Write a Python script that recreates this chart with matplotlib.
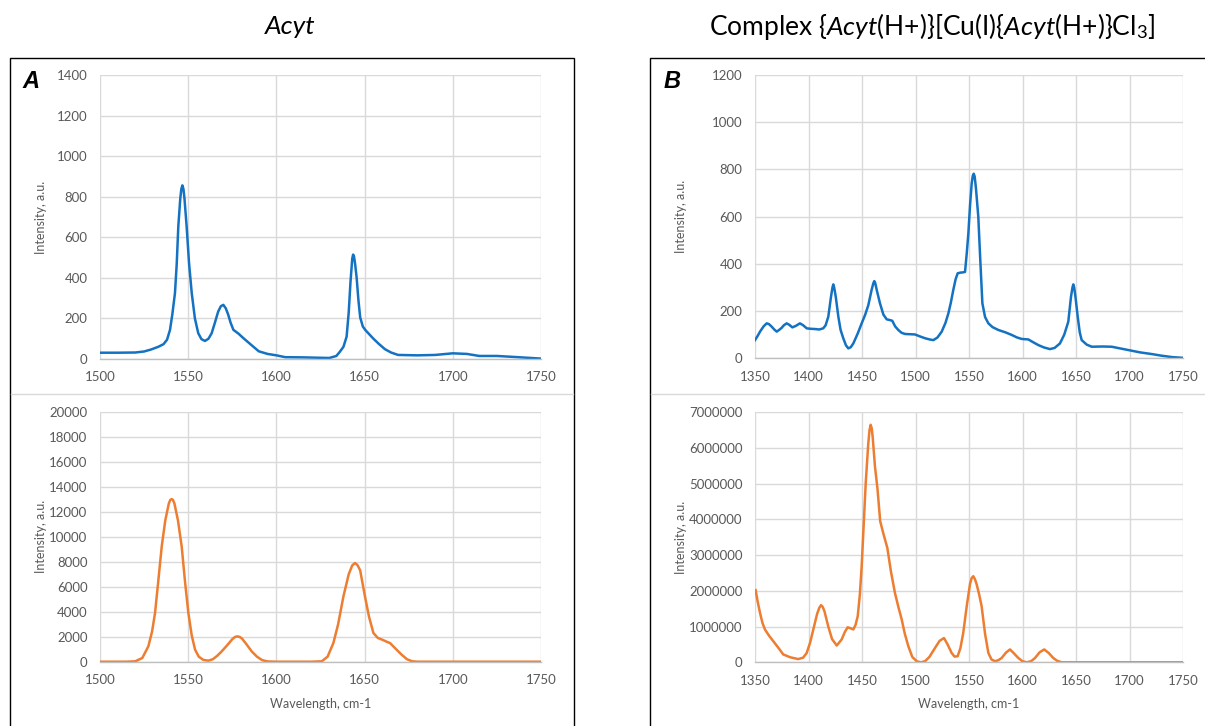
import matplotlib
matplotlib.use("Agg")
import matplotlib.pyplot as plt
from matplotlib.patches import Rectangle
from matplotlib.lines import Line2D
from matplotlib.ticker import MultipleLocator, FuncFormatter

plt.rcParams['font.family'] = ['Lato', 'DejaVu Sans']
plt.rcParams['mathtext.fontset'] = 'custom'
plt.rcParams['mathtext.rm'] = 'Lato'
plt.rcParams['mathtext.it'] = 'Lato:italic'

# %% data
acyt_raman_x = [1500, 1510, 1520, 1525, 1529, 1533, 1536, 1538, 1539.7, 1541, 1542.5, 1543.5, 1544.4, 1545.5,
                1546.1, 1546.7, 1547.3, 1547.9, 1549.1, 1550.5, 1552, 1553.8, 1555.7, 1557.5, 1559.5, 1561.5,
                1563.3, 1565, 1567, 1568.5, 1569.9, 1571.3, 1572.7, 1574, 1575.6, 1578.5, 1581, 1585, 1590,
                1595, 1600, 1605, 1615, 1625, 1630, 1634, 1636, 1638, 1639.8, 1641, 1642, 1643, 1643.5, 1644,
                1644.6, 1645.5, 1646.5, 1647.5, 1649, 1650.5, 1655, 1658, 1661.6, 1665, 1669, 1680, 1690, 1700,
                1708, 1715, 1725, 1735, 1750]
acyt_raman_y = [31, 31, 32, 37, 47, 60, 73, 95, 144, 220, 325, 470, 655, 790,
                838, 856, 838, 790, 655, 470, 325, 200, 127, 98, 89, 100,
                127, 175, 234, 260, 267, 250, 218, 180, 144, 125, 105, 75, 38,
                25, 18, 9, 8, 6, 5, 15, 36, 60, 110, 230, 380, 495, 515, 505,
                470, 400, 290, 205, 160, 142, 100, 75, 48, 32, 20, 18, 20, 28,
                25, 15, 15, 10, 2]

acyt_calc_x = [1500, 1515, 1520, 1524, 1527.4, 1529.5, 1531.2, 1533, 1535, 1537, 1539, 1539.8, 1540.6, 1541.4,
               1542.2, 1544.2, 1546.3, 1548.2, 1550.1, 1552, 1553.9, 1556, 1558.5, 1561.4, 1564, 1566.5, 1569,
               1572, 1575, 1576.5, 1577.9, 1579.2, 1580.5, 1583, 1586, 1589, 1592, 1595, 1600, 1620, 1625.7,
               1629, 1632.3, 1635, 1638, 1641, 1643, 1644.6, 1646, 1647.5, 1650.2, 1652.5, 1655, 1657.5, 1660,
               1662.5, 1664.4, 1667.5, 1671, 1674, 1677, 1680, 1750]
acyt_calc_y = [0, 0, 30, 300, 1227, 2400, 3893, 6400, 9227, 11300, 12650, 12930, 13013, 12930,
               12650, 11300, 9227, 6400, 3893, 2100, 960, 400, 150, 80, 200, 480, 827,
               1300, 1800, 1980, 2027, 1980, 1850, 1400, 827, 400, 120, 20, 0, 0, 30,
               400, 1493, 3000, 5227, 7000, 7705, 7893, 7720, 7300, 5227, 3600, 2293, 1900, 1760,
               1600, 1493, 1050, 560, 200, 30, 0, 0]

cplx_raman_x = [1350, 1352.5, 1354.7, 1358, 1360.9, 1363, 1365.6, 1368, 1370.3, 1372.5, 1374.9, 1377, 1379.6,
                1382, 1384.9, 1388, 1392, 1395, 1398.3, 1402, 1406.1, 1410, 1413.8, 1416, 1418.5, 1421, 1422.4,
                1423.2, 1424, 1425.5, 1427.9, 1430, 1432.5, 1435, 1437.2, 1439.5, 1441.9, 1446, 1449.7, 1453,
                1455.9, 1459, 1460.6, 1461.5, 1462.4, 1464, 1466.8, 1470, 1473.1, 1476, 1478.3, 1481, 1483.9,
                1487, 1490.2, 1495, 1499.5, 1504, 1508.9, 1513, 1516.7, 1520.5, 1524.5, 1528, 1530.7, 1533,
                1535.3, 1537.5, 1539.4, 1542, 1544.5, 1546.3, 1548, 1549.4, 1551, 1552.5, 1553.5, 1554.4,
                1555.3, 1556.5, 1558.7, 1560.5, 1562.5, 1565, 1568.1, 1572, 1577.4, 1584, 1589.9, 1595, 1599.3,
                1602, 1605.4, 1610, 1614.8, 1620, 1625.7, 1630, 1635, 1639, 1642.8, 1645.3, 1646.7, 1647.5,
                1648.3, 1649.5, 1651.6, 1653.5, 1655.3, 1660, 1664.7, 1675, 1683.4, 1690, 1698.9, 1710, 1720.8,
                1730, 1740, 1750]
cplx_raman_y = [77, 95, 113, 135, 148, 145, 134, 122, 113, 120, 129, 140, 148,
                142, 131, 137, 148, 140, 127, 125, 124, 122, 127, 140, 176, 260, 300,
                313, 300, 260, 176, 120, 85, 55, 42, 47, 63, 105, 148, 185,
                225, 290, 318, 327, 318, 285, 233, 185, 165, 162, 159, 135, 120,
                108, 103, 102, 101, 93, 85, 80, 77, 88, 113, 150, 190, 235,
                289, 335, 360, 363, 364, 366, 450, 529, 650, 740, 772, 782,
                770, 720, 599, 420, 233, 175, 148, 132, 120, 110, 99, 88, 82,
                81, 80, 68, 56, 46, 39, 44, 63, 100, 155, 260, 300, 313,
                300, 260, 176, 110, 77, 58, 49, 50, 49, 43, 35, 25, 18,
                11, 5, 2]

cplx_calc_x = [1350.6, 1352.5, 1354.7, 1357, 1359.3, 1363, 1367.1, 1372, 1376.4, 1383, 1390.4, 1395, 1398.3,
               1401.5, 1404.5, 1408, 1410, 1411.7, 1413.3, 1415, 1418.5, 1422, 1426.4, 1431, 1434, 1436.6, 1439.5,
               1441.9, 1444, 1446, 1448, 1449.7, 1451.5, 1453.5, 1455.8, 1457, 1458.1, 1459.1, 1460, 1462.1,
               1464.5, 1467, 1470, 1473.7, 1477, 1480.8, 1484, 1487.1, 1490, 1493.3, 1497, 1501.1, 1505, 1508.9,
               1513, 1518.2, 1522.5, 1526.6, 1530, 1533.8, 1536.5, 1539.4, 1542, 1544.6, 1548, 1551, 1552.5,
               1554, 1555.5, 1557, 1559.5, 1561.8, 1565, 1568.1, 1571, 1574.3, 1577.5, 1580.5, 1584.5, 1588.3,
               1592, 1596.1, 1600, 1603.9, 1608, 1611.7, 1616, 1620.3, 1624.5, 1628.8, 1632.5, 1636.6, 1750]
cplx_calc_y = [2.02e6, 1.70e6, 1.38e6, 1.10e6, 0.92e6, 0.75e6, 0.59e6, 0.40e6, 0.22e6, 0.14e6, 0.09e6, 0.13e6,
               0.26e6, 0.55e6, 0.92e6, 1.35e6, 1.52e6, 1.60e6, 1.55e6, 1.42e6, 1.00e6, 0.65e6, 0.47e6, 0.64e6,
               0.85e6, 0.98e6, 0.95e6, 0.92e6, 1.05e6, 1.29e6, 1.90e6, 2.69e6, 3.80e6, 5.03e6, 6.10e6, 6.50e6,
               6.65e6, 6.55e6, 6.30e6, 5.49e6, 4.85e6, 3.95e6, 3.60e6, 3.20e6, 2.55e6, 1.94e6, 1.55e6, 1.20e6,
               0.80e6, 0.45e6, 0.15e6, 0.03e6, 0.0, 0.03e6, 0.15e6, 0.40e6, 0.60e6, 0.68e6, 0.50e6, 0.26e6,
               0.16e6, 0.17e6, 0.40e6, 0.82e6, 1.60e6, 2.20e6, 2.36e6, 2.41e6, 2.33e6, 2.20e6, 1.90e6, 1.57e6,
               0.80e6, 0.26e6, 0.08e6, 0.03e6, 0.06e6, 0.12e6, 0.27e6, 0.36e6, 0.25e6, 0.12e6, 0.03e6, 0.0,
               0.03e6, 0.12e6, 0.28e6, 0.36e6, 0.26e6, 0.12e6, 0.04e6, 0.0, 0.0]

BLUE = '#1472c2'
ORANGE = '#ed7d31'
W, H = 1205, 726


def px_rect(left, top, right, bottom):
    return [left / W, 1 - bottom / H, (right - left) / W, (bottom - top) / H]


def style_axes(ax, xlim, xstep, ylim, ystep, label_x):
    ax.set_xlim(*xlim)
    ax.set_ylim(*ylim)
    ax.xaxis.set_major_locator(MultipleLocator(xstep))
    ax.yaxis.set_major_locator(MultipleLocator(ystep))
    ax.yaxis.set_major_formatter(FuncFormatter(lambda v, p: '%d' % v))
    ax.grid(True, color='#d9d9d9', lw=1.0)
    ax.set_axisbelow(True)
    for s in ['top', 'right', 'left']:
        ax.spines[s].set_visible(False)
    ax.spines['bottom'].set_color('#bfbfbf')
    ax.spines['bottom'].set_linewidth(1.0)
    ax.tick_params(length=0, labelsize=9.5, labelcolor='#595959', pad=9)
    ax.set_ylabel('Intensity, a.u.', fontsize=9, color='#595959')
    ax.yaxis.set_label_coords(label_x, 0.5)


fig = plt.figure(figsize=(W / 100, H / 100), dpi=100)

# frames
for (l, r) in [(9.5, 573.5), (649.5, 1210)]:
    fig.patches.append(Rectangle((l / W, -0.01), (r - l) / W, 1 - 57.5 / H + 0.01,
                                 transform=fig.transFigure, fill=False, ec='black', lw=1.0))
    fig.lines.append(Line2D([(l + 1) / W, (r - 1) / W], [1 - 394 / H] * 2,
                            transform=fig.transFigure, color='#d9d9d9', lw=1.0))

axA1 = fig.add_axes(px_rect(100, 75, 541, 359))
axA1.plot(acyt_raman_x, acyt_raman_y, color=BLUE, lw=1.8)
style_axes(axA1, (1500, 1750), 50, (0, 1400), 200, -0.12)

axA2 = fig.add_axes(px_rect(100, 411.7, 541, 661.7))
axA2.plot(acyt_calc_x, acyt_calc_y, color=ORANGE, lw=1.8)
style_axes(axA2, (1500, 1750), 50, (0, 20000), 2000, -0.12)
axA2.set_xlabel('Wavelength, cm-1', fontsize=9, color='#595959')
axA2.xaxis.set_label_coords(0.5, -0.145)

axB1 = fig.add_axes(px_rect(755, 75, 1183, 358.3))
axB1.plot(cplx_raman_x, cplx_raman_y, color=BLUE, lw=1.8)
style_axes(axB1, (1350, 1750), 50, (0, 1200), 200, -0.159)

axB2 = fig.add_axes(px_rect(755, 412.3, 1183, 662.3))
axB2.plot(cplx_calc_x, cplx_calc_y, color=ORANGE, lw=1.8)
style_axes(axB2, (1350, 1750), 50, (0, 7000000), 1000000, -0.159)
axB2.set_xlabel('Wavelength, cm-1', fontsize=9, color='#595959')
axB2.xaxis.set_label_coords(0.5, -0.143)

# titles and panel letters
fig.text(290 / W, 1 - 27 / H, 'Acyt', fontsize=19, style='italic', ha='center', va='center')
fig.text(932 / W, 1 - 27 / H,
         r'Complex {$\mathit{Acyt}$(H+)}[Cu(I){$\mathit{Acyt}$(H+)}Cl$_{\mathrm{3}}$]',
         fontsize=19, ha='center', va='center')
fig.text(31 / W, 1 - 82 / H, 'A', fontsize=17, weight='bold', style='italic',
         family='Liberation Sans', ha='center', va='center')
fig.text(672 / W, 1 - 82 / H, 'B', fontsize=17, weight='bold', style='italic',
         family='Liberation Sans', ha='center', va='center')

fig.savefig('out.png', dpi=100)
